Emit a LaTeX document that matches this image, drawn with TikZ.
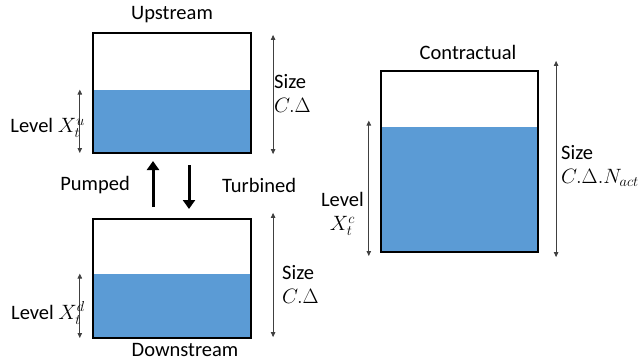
\documentclass[tikz,border=0pt]{standalone}
\usepackage{fontspec}
\setmainfont{Carlito}
\usepackage{tikz}
\usetikzlibrary{positioning,arrows.meta,calc}
\definecolor{waterblue}{HTML}{5B9BD5}
\definecolor{dimline}{HTML}{404040}

\begin{document}
\begin{tikzpicture}[
  x=1pt, y=-1pt,
  every node/.style={font=\fontsize{20.5}{23}\selectfont},
  tank/.style={draw, line width=2.2pt, inner sep=0pt},
  water/.style={fill=waterblue, inner sep=0pt},
  dim/.style={{Triangle[length=5pt,width=4.5pt]}-{Triangle[length=5pt,width=4.5pt]}, line width=0.8pt, draw=dimline},
  flow/.style={-{Triangle[length=9pt,width=12pt]}, line width=3pt}
]
  \useasboundingbox (0,0) rectangle (644,362);

  % Upstream reservoir
  \node[water, minimum width=158pt, minimum height=63pt, anchor=south] (upw) at (172,153) {};
  \node[tank, minimum width=158pt, minimum height=120pt] (up) at (172,93) {};
  \node (uplbl) at (172,15) {Upstream};
  \coordinate (uplvtop) at ([xshift=-13pt]upw.north west);
  \coordinate (uplvbot) at ([xshift=-13pt]upw.south west);
  \draw[dim] (uplvtop) -- (uplvbot);
  \node[anchor=east, inner sep=0pt] (uplv) at (85,128) {Level $X_t^u$};
  \coordinate (upsztop) at ([xshift=21pt,yshift=-3pt]up.north east);
  \coordinate (upszbot) at ([xshift=21pt]up.south east);
  \draw[dim] (upsztop) -- (upszbot);
  \node[anchor=west, align=left, inner sep=0pt] (upsz) at (274,93) {Size\\[1pt] $C.\Delta$};

  % Pumped / turbined arrows
  \coordinate (pmpbot) at (153,207);
  \coordinate (pmptop) at (153,161);
  \coordinate (trbtop) at (189,165);
  \coordinate (trbbot) at (189,209);
  \draw[flow] (pmpbot) -- (pmptop);
  \draw[flow] (trbtop) -- (trbbot);
  \node[anchor=east, inner sep=0pt] (pmp) at (130,185) {Pumped};
  \node[anchor=west, inner sep=0pt] (trb) at (222,185) {Turbined};

  % Downstream reservoir
  \node[water, minimum width=158pt, minimum height=64pt, anchor=south] (dnw) at (172,338) {};
  \node[tank, minimum width=158pt, minimum height=119pt] (dn) at (172,278.5) {};
  \node (dnlbl) at (185,350) {Downstream};
  \coordinate (dnlvtop) at ([xshift=-13pt]dnw.north west);
  \coordinate (dnlvbot) at ([xshift=-13pt]dnw.south west);
  \draw[dim] (dnlvtop) -- (dnlvbot);
  \node[anchor=east, inner sep=0pt] (dnlv) at (85,313) {Level $X_t^d$};
  \coordinate (dnsztop) at ([xshift=21pt,yshift=5pt]dn.north east);
  \coordinate (dnszbot) at ([xshift=21pt,yshift=2pt]dn.south east);
  \draw[dim] (dnsztop) -- (dnszbot);
  \node[anchor=west, align=left, inner sep=0pt] (dnsz) at (282,284) {Size\\[1pt] $C.\Delta$};

  % Contractual reservoir
  \node[water, minimum width=157pt, minimum height=125pt, anchor=south] (ctw) at (459.5,252) {};
  \node[tank, minimum width=157pt, minimum height=181pt] (ct) at (459.5,161.5) {};
  \node (ctlbl) at (468,52) {Contractual};
  \coordinate (ctlvtop) at ([xshift=-12pt,yshift=6pt]ctw.north west);
  \coordinate (ctlvbot) at ([xshift=-12pt,yshift=-4pt]ctw.south west);
  \draw[dim] (ctlvtop) -- (ctlvbot);
  \node[anchor=east, align=center, inner sep=0pt] (ctlv) at (364,214) {Level\\[1pt] $X_t^c$};
  \coordinate (ctsztop) at ([xshift=17pt,yshift=9pt]ct.north east);
  \coordinate (ctszbot) at ([xshift=17pt,yshift=-4pt]ct.south east);
  \draw[dim] (ctsztop) -- (ctszbot);
  \node[anchor=west, align=left, inner sep=0pt] (ctsz) at (561,166) {Size\\[1pt] $C.\Delta.N_{act}$};
\end{tikzpicture}
\end{document}
